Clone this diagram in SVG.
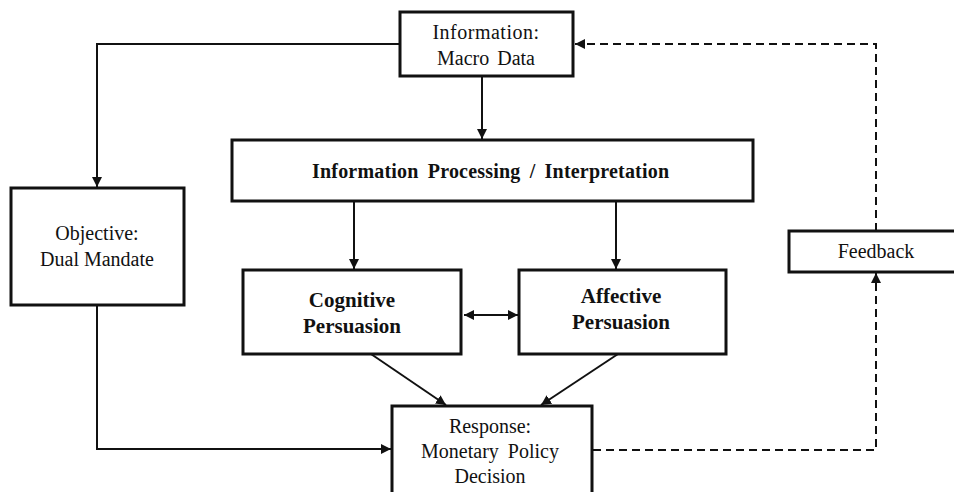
<svg xmlns="http://www.w3.org/2000/svg" width="954" height="492" viewBox="0 0 954 492">
<style>
.box{fill:#fff;stroke:#111;stroke-width:3}
.t{font-family:"Liberation Serif","Times New Roman",serif;font-size:20px;fill:#111;text-anchor:middle}
.b{font-weight:bold;font-size:21px}
.c{fill:none;stroke:#111;stroke-width:2}
.d{stroke-dasharray:8 5}
</style>
<defs>
<marker id="ah" viewBox="0 0 10 10" refX="10" refY="5" markerWidth="5" markerHeight="5" orient="auto-start-reverse" markerUnits="strokeWidth">
<path d="M0,0 L10,5 L0,10 z" fill="#111"/>
</marker>
</defs>
<rect width="954" height="492" fill="#fff"/>
<g id="connectors">
<path class="c" d="M400,44 H97 V187" marker-end="url(#ah)"/>
<path class="c" d="M482,76 V139" marker-end="url(#ah)"/>
<path class="c" d="M354,201 V269" marker-end="url(#ah)"/>
<path class="c" d="M616,201 V269" marker-end="url(#ah)"/>
<path class="c" d="M464,315 H518" marker-start="url(#ah)" marker-end="url(#ah)"/>
<path class="c" d="M371,354 L446,405" marker-end="url(#ah)"/>
<path class="c" d="M618,354 L541,405" marker-end="url(#ah)"/>
<path class="c" d="M97,305 V449 H391" marker-end="url(#ah)"/>
<path class="c d" d="M593,450 H876 V273" marker-end="url(#ah)"/>
<path class="c d" d="M876,231 V44 H575" marker-end="url(#ah)"/>
</g>
<g id="info">
<rect class="box" x="400" y="12" width="173" height="64"/>
<text class="t" x="486" y="39" letter-spacing="0.5">Information:</text>
<text class="t" x="486" y="65" word-spacing="3">Macro Data</text>
</g>
<g id="processing">
<rect class="box" x="232" y="140" width="521" height="61"/>
<text class="t b" x="490.5" y="178" textLength="357" lengthAdjust="spacing" style="font-size:20px" word-spacing="4">Information Processing / Interpretation</text>
</g>
<g id="objective">
<rect class="box" x="11" y="188" width="173" height="117"/>
<text class="t" x="97" y="240">Objective:</text>
<text class="t" x="97" y="266">Dual Mandate</text>
</g>
<g id="cognitive">
<rect class="box" x="243" y="270" width="218" height="84"/>
<text class="t b" x="352" y="307">Cognitive</text>
<text class="t b" x="352" y="333">Persuasion</text>
</g>
<g id="affective">
<rect class="box" x="519" y="270" width="207" height="84"/>
<text class="t b" x="621" y="303">Affective</text>
<text class="t b" x="621" y="329">Persuasion</text>
</g>
<g id="feedback">
<rect class="box" x="789" y="231" width="168" height="41"/>
<text class="t" x="876" y="258">Feedback</text>
</g>
<g id="response">
<rect class="box" x="392" y="406" width="200" height="90"/>
<text class="t" x="490" y="433">Response:</text>
<text class="t" x="490" y="458" word-spacing="4">Monetary Policy</text>
<text class="t" x="490" y="483">Decision</text>
</g>
</svg>
